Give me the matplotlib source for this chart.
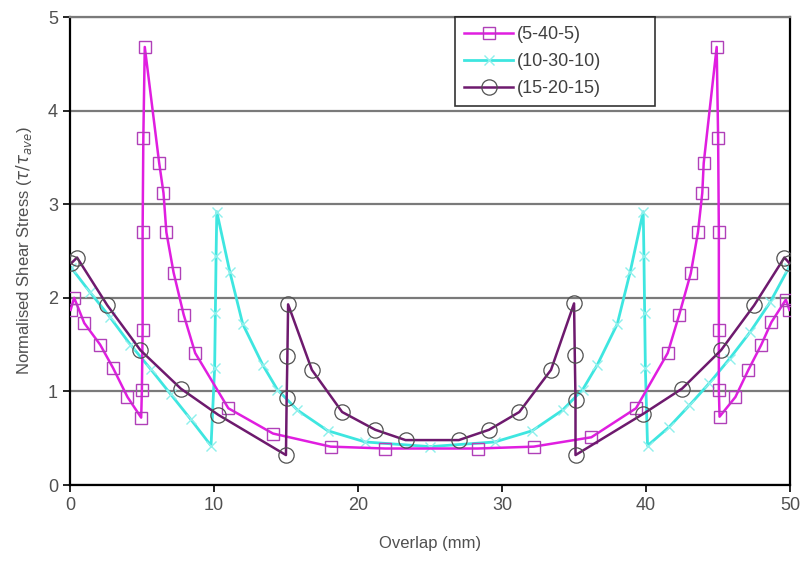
import numpy as np
import matplotlib.pyplot as plt

plt.rcParams['font.family'] = ['Liberation Sans', 'DejaVu Sans']

# (5-40-5)
x1 = [0.05, 0.3, 1.0, 2.1, 3.0, 4.0, 4.95, 5.0, 5.05, 5.05, 5.1, 5.2, 6.2, 6.5, 6.7, 7.2, 7.9, 8.7,
      11.0, 14.1, 18.1, 21.9, 28.3, 32.2, 36.2, 39.3, 41.5, 42.3, 43.1, 43.6, 43.9, 44.0,
      44.9, 45.0, 45.05, 45.05, 45.05, 45.1, 46.2, 47.1, 48.0, 48.7, 49.7, 49.95]
y1 = [1.87, 2.0, 1.73, 1.50, 1.25, 0.94, 0.72, 1.01, 1.66, 2.70, 3.71, 4.68, 3.44, 3.12, 2.70, 2.27, 1.82, 1.41,
      0.82, 0.55, 0.41, 0.39, 0.39, 0.41, 0.51, 0.82, 1.41, 1.82, 2.26, 2.70, 3.12, 3.44,
      4.68, 3.71, 2.70, 1.66, 1.01, 0.73, 0.94, 1.23, 1.50, 1.74, 1.98, 1.87]

# (10-30-10)
x2 = [0.1, 1.4, 2.8, 4.2, 5.6, 7.0, 8.4, 9.8, 10.05, 10.1, 10.15, 10.2, 11.1, 12.0, 13.4, 14.4,
      15.8, 17.9, 20.5, 25.0, 29.5, 32.1, 34.2, 35.6, 36.6, 38.0, 38.9, 39.8, 39.85, 39.9, 39.95,
      40.1, 41.6, 43.0, 44.4, 45.8, 47.2, 48.6, 49.9]
y2 = [2.32, 2.06, 1.79, 1.50, 1.24, 0.97, 0.70, 0.42, 1.25, 1.84, 2.45, 2.92, 2.28, 1.72, 1.28, 1.02,
      0.80, 0.58, 0.46, 0.41, 0.46, 0.58, 0.80, 1.02, 1.28, 1.72, 2.28, 2.92, 2.45, 1.84, 1.25,
      0.42, 0.62, 0.85, 1.09, 1.35, 1.63, 1.95, 2.32]

# (15-20-15)
x3 = [0.1, 0.5, 2.6, 4.9, 7.7, 10.3, 15.0, 15.05, 15.1, 15.15, 16.8, 18.9, 21.2, 23.3,
      27.0, 29.1, 31.2, 33.4, 35.0, 35.05, 35.1, 35.1, 39.8, 42.5, 45.2, 47.5, 49.6, 49.95]
y3 = [2.37, 2.43, 1.92, 1.44, 1.03, 0.75, 0.32, 0.93, 1.38, 1.93, 1.23, 0.78, 0.59, 0.48,
      0.48, 0.59, 0.78, 1.23, 1.94, 1.39, 0.91, 0.32, 0.76, 1.03, 1.44, 1.92, 2.43, 2.37]

labels = ['(5-40-5)', '(10-30-10)', '(15-20-15)']
xticks = [0, 10, 20, 30, 40, 50]
yticks = [0, 1, 2, 3, 4, 5]

fig = plt.figure(figsize=(8.03, 5.67), dpi=100)
ax = fig.add_axes([0.087, 0.1446, 0.897, 0.8254])

ax.plot(x1, y1, color='#e01ee0', lw=1.8, marker='s', ms=9, mfc='none', mec='#b040b8', mew=1.0,
        label=labels[0], zorder=3)
ax.plot(x2, y2, color='#3ee6e0', lw=2.0, marker='x', ms=7, mec='#8ef0ec', mew=1.0,
        label=labels[1], zorder=2)
ax.plot(x3, y3, color='#6e1a6e', lw=1.8, marker='o', ms=11, mfc='none', mec='#505050', mew=0.9,
        label=labels[2], zorder=4)

ax.set_xlim(0, 50)
ax.set_ylim(0, 5)
ax.set_xticks(xticks)
ax.set_yticks(yticks)
ax.yaxis.grid(True, color='#7a7a7a', lw=1.6)
ax.set_axisbelow(True)
for s in ax.spines.values():
    s.set_color('black')
    s.set_linewidth(1.6)
ax.spines['top'].set_color('#7a7a7a')
ax.tick_params(direction='out', length=5, width=1.2, colors='black', labelcolor='#505050',
               labelsize=13)

ax.set_xlabel('Overlap (mm)', color='#505050', fontsize=12, labelpad=16)
ax.set_ylabel(r'Normalised Shear Stress ($\tau/\tau_{ave}$)', color='#505050', fontsize=12,
              labelpad=10)

leg = ax.legend(loc='upper left', bbox_to_anchor=(0.535, 0.5, 0.278, 0.5), mode='expand',
                fontsize=13, frameon=True, fancybox=False, handlelength=2.7, handletextpad=0.2,
                borderpad=0.5, labelspacing=0.55, borderaxespad=0)
leg.get_frame().set_edgecolor('black')
leg.get_frame().set_linewidth(1.2)
for t in leg.get_texts():
    t.set_color('#404040')

fig.savefig('out.png', dpi=100)
